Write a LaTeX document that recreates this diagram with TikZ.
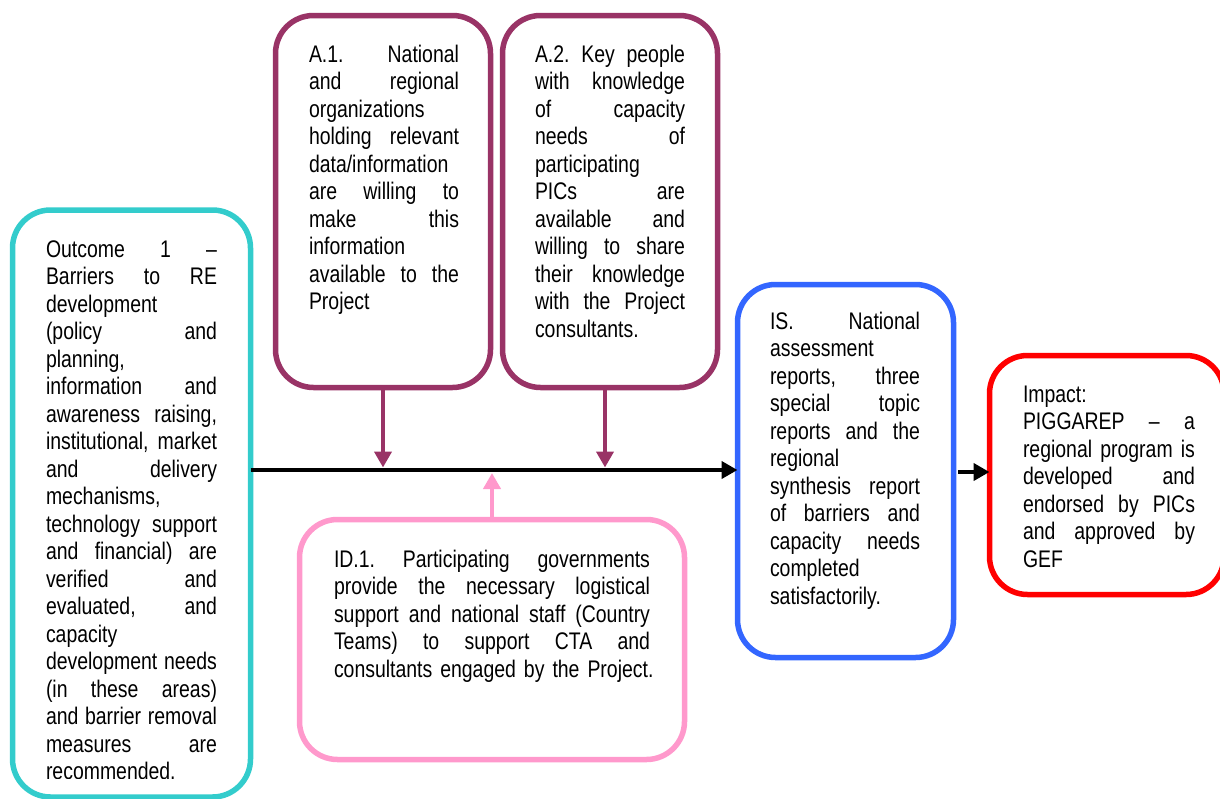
\documentclass[tikz,border=0pt]{standalone}
\usepackage{fontspec}
\setmainfont{Liberation Sans}[FakeStretch=0.81]
\usetikzlibrary{arrows.meta}
\definecolor{cteal}{HTML}{33CCCC}
\definecolor{cplum}{HTML}{993366}
\definecolor{cpink}{HTML}{FF99CC}
\definecolor{cblue}{HTML}{3366FF}
\definecolor{cred}{HTML}{FF0000}
\frenchspacing
\newcommand\jl[1]{\makebox[\hsize][s]{\spaceskip=0pt\xspaceskip=0pt #1}}
\newcommand\fs{\rule{0pt}{19pt}}
\tikzset{
  box/.style={draw, rectangle, line width=5.5pt, rounded corners=38pt, inner sep=0pt, outer sep=0pt},
  txt/.style={anchor=north west, inner sep=0pt, outer sep=0pt, align=left, font=\fontsize{24}{27.5}\selectfont\frenchspacing},
  arr/.style={line width=4.5pt, -{Triangle[length=16pt,width=17pt]}},
}
\begin{document}
\begin{tikzpicture}[x=1pt,y=-1pt]
\useasboundingbox (0,0) rectangle (1220,798);
\clip (0,0) rectangle (1220,798);
% boxes
\node[box, draw=cteal, minimum width=238pt, minimum height=587pt] (outcome) at (131.5,503.5) {};
\node[box, draw=cplum, minimum width=215pt, minimum height=372pt] (a1) at (383,201.5) {};
\node[box, draw=cplum, minimum width=215pt, minimum height=372pt] (a2) at (610,201.5) {};
\node[box, draw=cpink, minimum width=385pt, minimum height=240pt] (id) at (492,639.5) {};
\node[box, draw=cblue, minimum width=216pt, minimum height=373pt] (is) at (845.5,471) {};
\node[box, draw=cred, minimum width=234.5pt, minimum height=239pt] (imp) at (1106.75,475) {};
% texts
\begin{scope}
\clip (0,0) rectangle (1220,778);
\node[txt, text width=171pt] (toutcome) at (46,238) {\fs\jl{Outcome 1 –}\\
\jl{Barriers to RE}\\
development\\
\jl{(policy and}\\
planning,\\
\jl{information and}\\
\jl{awareness raising,}\\
\jl{institutional, market}\\
\jl{and delivery}\\
mechanisms,\\
\jl{technology support}\\
\jl{and financial) are}\\
\jl{verified and}\\
\jl{evaluated, and}\\
capacity\\
\jl{development needs}\\
\jl{(in these areas)}\\
\jl{and barrier removal}\\
\jl{measures are}\\
recommended.};
\end{scope}
\node[txt, text width=150pt] (ta1) at (309,43) {\fs\jl{A.1. National}\\
\jl{and regional}\\
organizations\\
\jl{holding relevant}\\
data/information\\
\jl{are willing to}\\
\jl{make this}\\
information\\
\jl{available to the}\\
Project};
\node[txt, text width=150pt] (ta2) at (535,43) {\fs\jl{A.2. Key people}\\
\jl{with knowledge}\\
\jl{of capacity}\\
\jl{needs of}\\
participating\\
\jl{PICs are}\\
\jl{available and}\\
\jl{willing to share}\\
\jl{their knowledge}\\
\jl{with the Project}\\
consultants.};
\node[txt, text width=316pt] (tid) at (334,548) {\fs\jl{ID.1. Participating governments}\\
\jl{provide the necessary logistical}\\
\jl{support and national staff (Country}\\
\jl{Teams) to support CTA and}\\
\mbox{consultants engaged by the Project.}};
\node[txt, text width=150pt] (tis) at (770,310) {\fs\jl{IS. National}\\
assessment\\
\jl{reports, three}\\
\jl{special topic}\\
\jl{reports and the}\\
regional\\
\jl{synthesis report}\\
\jl{of barriers and}\\
\jl{capacity needs}\\
completed\\
satisfactorily.};
\node[txt, text width=172pt] (timp) at (1023,383) {\fs Impact:\\
\jl{PIGGAREP – a}\\
\jl{regional program is}\\
\jl{developed and}\\
\jl{endorsed by PICs}\\
\jl{and approved by}\\
GEF};
% connectors
\coordinate (m) at (0,470);
\coordinate (mtop) at (0,467.5);
\coordinate (mbot) at (0,473);
\coordinate (m2) at (0,472);
\coordinate (a2x) at (605,0);
\draw[arr, draw=black, fill=black] (outcome.east |- m) -- (is.west |- m);
\draw[arr, draw=cplum, fill=cplum] (a1.south) -- (a1.south |- mtop);
\draw[arr, draw=cplum, fill=cplum] (a2.south -| a2x) -- (a2x |- mtop);
\draw[arr, draw=cpink, fill=cpink] (id.north) -- (id.north |- mbot);
\draw[arr, draw=black, fill=black, shorten <=4.5pt] (is.east |- m2) -- (imp.west |- m2);
\end{tikzpicture}
\end{document}
